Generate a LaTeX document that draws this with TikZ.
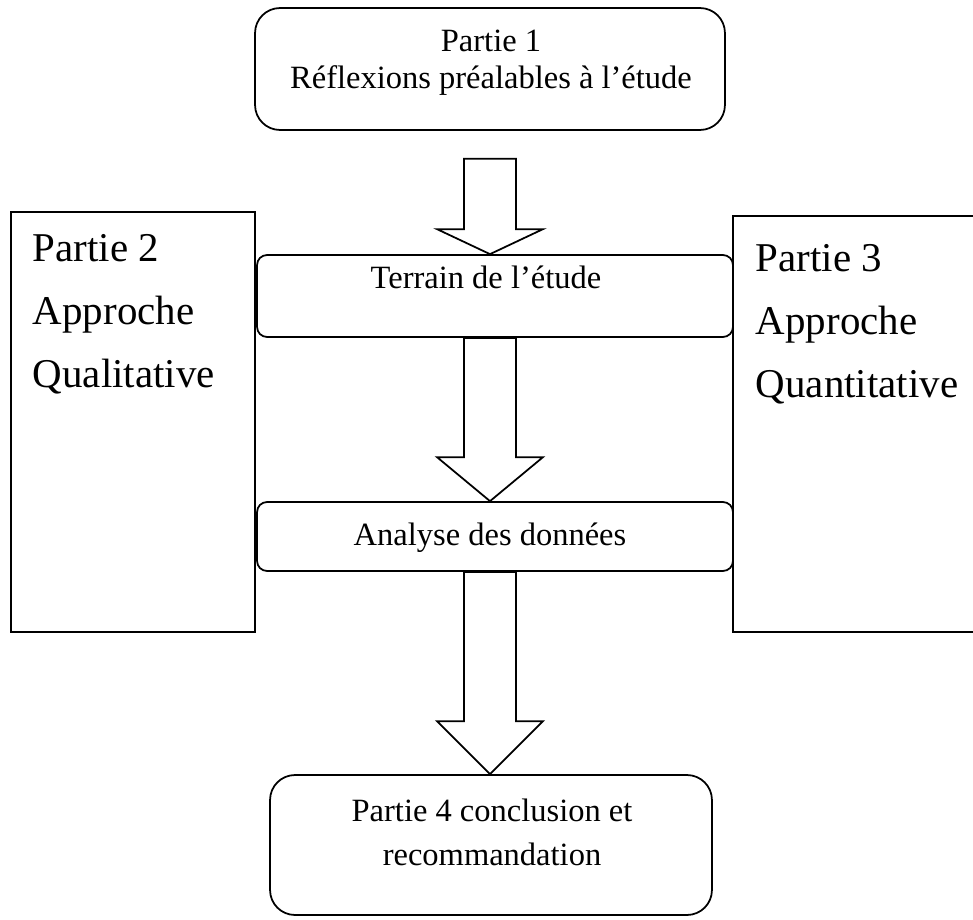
\documentclass[tikz,border=0pt]{standalone}
\usepackage{fontspec}
\setmainfont{Liberation Serif}
\usetikzlibrary{calc}

\newcommand{\blockarrow}[4]{%
  \draw[hollow] ($(axis |- #1.south)+(-26,#3)$) -- ($(axis |- #2.north)+(-26,-#4)$)
    -- ++(-27,0) -- (axis |- #2.north) -- ($(axis |- #2.north)+(53,-#4)$)
    -- ++(-27,0) -- ($(axis |- #1.south)+(26,#3)$) -- cycle;}

\begin{document}
\begin{tikzpicture}[x=0.02cm,y=-0.02cm,line width=1pt,
  roundbig/.style={draw,rounded corners=0.5cm,inner sep=0pt},
  roundsmall/.style={draw,rounded corners=0.2cm,inner sep=0pt},
  plainbox/.style={draw,inner sep=0pt},
  hollow/.style={draw,fill=white,line join=miter},
  small/.style={inner sep=0pt,align=center,font=\fontsize{18.5pt}{21pt}\selectfont},
  big/.style={inner sep=0pt,align=left,font=\fontsize{23.3pt}{35.7pt}\selectfont}]
\clip (0,0) rectangle (973,919);
\coordinate (axis) at (490,0);

\node[plainbox,minimum width=4.88cm,minimum height=8.4cm] (Part2) at (133,422) {};
\node[plainbox,minimum width=5.34cm,minimum height=8.32cm] (Part3) at (866.5,424) {};
\node[roundbig,minimum width=9.4cm,minimum height=2.44cm] (Part1) at (490,69) {};
\node[roundsmall,minimum width=9.52cm,minimum height=1.64cm] (Terrain) at (495,296) {};
\node[roundsmall,minimum width=9.52cm,minimum height=1.38cm] (Analyse) at (495,536.5) {};
\node[roundbig,minimum width=8.84cm,minimum height=2.8cm] (Part4) at (491,845) {};

\node[small] (Part1text) at (491,63) {Partie 1\\Réflexions préalables à l’étude};
\node[small,anchor=base] (Terraintext) at (486,288) {Terrain de l’étude};
\node[small,anchor=base] (Analysetext) at (490,545) {Analyse des données};
\node[small,font=\fontsize{18.5pt}{25pt}\selectfont] (Part4text) at (492,832) {Partie 4 conclusion et\\recommandation};
\node[big,anchor=north west] (Part2text) at (32,234) {Partie 2\\Approche\\Qualitative};
\node[big,anchor=north west] (Part3text) at (755,244) {Partie 3\\Approche\\Quantitative};

\blockarrow{Part1}{Terrain}{28}{25}
\blockarrow{Terrain}{Analyse}{0}{44}
\blockarrow{Analyse}{Part4}{0}{53}
\end{tikzpicture}
\end{document}
